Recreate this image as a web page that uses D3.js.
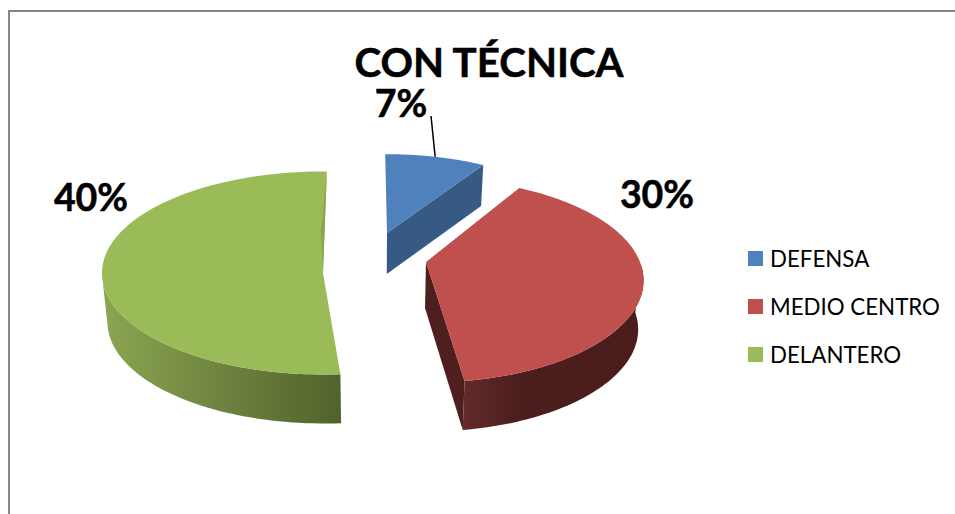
<!DOCTYPE html>
<html>
<head>
<meta charset="utf-8">
<script src="https://cdn.jsdelivr.net/npm/d3@7"></script>
<style>
  html, body { margin: 0; padding: 0; background: #fff; }
  text { font-family: Lato, sans-serif; fill: #000; }
  .heavy { stroke: #000; stroke-width: 0.5; }
</style>
</head>
<body>
<div id="chart"></div>
<script>
// chart data
const categories = ['DEFENSA', 'MEDIO CENTRO', 'DELANTERO'];
const values = [7, 30, 40];
const valueLabels = ['7%', '30%', '40%'];
const chartTitle = 'CON TÉCNICA';

const width = 955;
const height = 514;

const topColors = ['#4f81bd', '#c0504d', '#9bbb59'];
const radialColors = ['#375a84', '#4f1f1f', '#8aa64f'];
const wallStops = [
    ['#375a84', '#375a84', '#375a84'],
    ['#622a2a', '#4c1e1e', '#4b1c1c'],
    ['#8ba651', '#6f8340', '#50622a']
];

// each slice is exploded and foreshortened on its own in the 3D view
const sliceViews = [
    { tipX: 387, tipY: 233, sx: 205, sy: 93, p: 0.18, rot0: -0.6, rot1: 0, depth: 41 },
    { tipX: 426, tipY: 262, sx: 214, sy: 99, p: 0.18, rot0: -2.5, rot1: -1.5, depth: 49 },
    { tipX: 323, tipY: 273, sx: 221, sy: 101.5, p: 0, rot0: 2.5, rot1: 1, depth: 49 }
];

const labelPos = [[401, 117], [657, 208], [91, 211]];

const svg = d3.select('#chart').append('svg')
    .attr('width', width)
    .attr('height', height)
    .style('display', 'block');

const defs = svg.append('defs');

// chart frame: only top and left edges show in the crop
svg.append('path')
    .attr('d', d3.line()([[9, height], [9, 11], [width, 11]]))
    .attr('fill', 'none')
    .attr('stroke', '#868686')
    .attr('stroke-width', 2);

const arcs = d3.pie().sort(null).value(d => d)(values);
const line = d3.line();

function project(view, deg) {
    const a = deg * Math.PI / 180;
    const u = Math.sin(a);
    const v = -Math.cos(a);
    const w = 1 - view.p * v;
    return [view.tipX + view.sx * u / w, view.tipY + view.sy * v / w];
}

// base of the pie sits lower and slightly narrower than the top face
function lower(view, pt) {
    return [375 + (pt[0] - 375) * 0.98, pt[1] + view.depth];
}

function rimPoints(view, d) {
    const a0 = d.startAngle * 180 / Math.PI + view.rot0;
    const a1 = d.endAngle * 180 / Math.PI + view.rot1;
    return d3.range(0, 101).map(i => project(view, a0 + (a1 - a0) * i / 100));
}

const slices = svg.selectAll('g.slice')
    .data(arcs)
    .enter()
    .append('g')
    .attr('class', 'slice');

slices.each(function (d, i) {
    const g = d3.select(this);
    const view = sliceViews[i];
    const tip = [view.tipX, view.tipY];
    const rim = rimPoints(view, d);
    const last = rim[rim.length - 1];

    if (i === 0) {
        // blue: radial wall at the clockwise end faces the viewer
        g.append('path')
            .attr('d', line([tip, last, lower(view, last), lower(view, tip)]) + 'Z')
            .attr('fill', radialColors[i]);
    }
    if (i === 1) {
        // red: radial wall on the left, then curved outer wall
        const tipBase = [tip[0] - 1, tip[1] + 46];
        g.append('path')
            .attr('d', line([tip, last, lower(view, last), tipBase]) + 'Z')
            .attr('fill', radialColors[i]);
    }
    if (i > 0) {
        const gradId = 'wall' + i;
        const grad = defs.append('linearGradient')
            .attr('id', gradId)
            .attr('gradientUnits', 'userSpaceOnUse')
            .attr('x1', i === 1 ? 464 : 102).attr('x2', i === 1 ? 643 : 342)
            .attr('y1', 0).attr('y2', 0);
        grad.append('stop').attr('offset', 0).attr('stop-color', wallStops[i][0]);
        grad.append('stop').attr('offset', i === 1 ? 0.3 : 0.5).attr('stop-color', wallStops[i][1]);
        grad.append('stop').attr('offset', 1).attr('stop-color', wallStops[i][2]);
        const wall = rim.filter(p => p[1] >= view.tipY);
        g.append('path')
            .attr('d', line(wall.concat(wall.slice().reverse().map(p => lower(view, p)))) + 'Z')
            .attr('fill', `url(#${gradId})`);
    }

    g.append('path')
        .attr('d', line([tip].concat(rim)) + 'Z')
        .attr('fill', topColors[i]);

    if (i === 2) {
        // thin inner wall of the green slice next to the gap
        const mid = [(last[0] + tip[0]) / 2 - 4, (last[1] + tip[1]) / 2 + 10];
        g.append('path')
            .attr('d', line([last, tip, mid]) + 'Z')
            .attr('fill', radialColors[i]);
    }
});

// leader line of the small slice
const leaderEnd = project(sliceViews[0], 16);
svg.append('path')
    .attr('d', line([[431, 116], leaderEnd]))
    .attr('fill', 'none')
    .attr('stroke', '#000')
    .attr('stroke-width', 1.5);

svg.append('text')
    .attr('class', 'heavy')
    .attr('x', 489)
    .attr('y', 77)
    .attr('text-anchor', 'middle')
    .attr('font-size', 40.3)
    .attr('font-weight', 700)
    .text(chartTitle);

svg.selectAll('text.value')
    .data(valueLabels)
    .enter()
    .append('text')
    .attr('class', 'value heavy')
    .attr('x', (d, i) => labelPos[i][0])
    .attr('y', (d, i) => labelPos[i][1])
    .attr('text-anchor', 'middle')
    .attr('font-size', 37.5)
    .attr('font-weight', 700)
    .text(d => d);

const legendY = d3.scalePoint().domain(categories).range([259, 355]);

const legend = svg.selectAll('g.legend')
    .data(categories)
    .enter()
    .append('g')
    .attr('class', 'legend')
    .attr('transform', d => `translate(748,${legendY(d)})`);

legend.append('rect')
    .attr('y', -8)
    .attr('width', 15)
    .attr('height', 15)
    .attr('fill', (d, i) => topColors[i]);

legend.append('text')
    .attr('x', 22)
    .attr('y', 8)
    .attr('font-size', 22.3)
    .text(d => d);
</script>
</body>
</html>
